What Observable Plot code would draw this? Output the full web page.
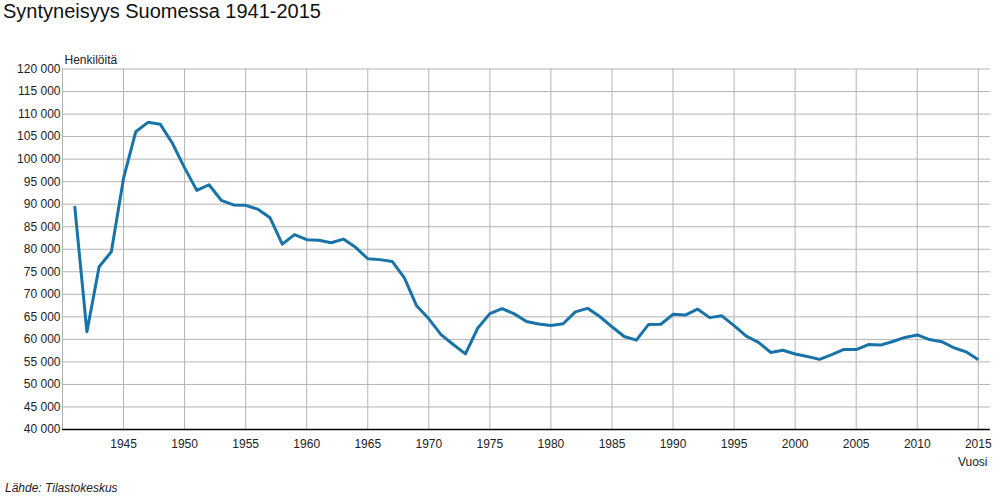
<!DOCTYPE html>
<html>
<head>
<meta charset="utf-8">
<script src="https://cdn.jsdelivr.net/npm/d3@7"></script>
<script src="https://cdn.jsdelivr.net/npm/@observablehq/plot@0.6"></script>
<style>
  html, body { margin: 0; padding: 0; background: #fff; overflow: hidden; }
  #wrap { position: relative; width: 1000px; height: 500px; font-family: "Liberation Sans", Arial, sans-serif; }
  #title { position: absolute; left: 3px; top: 0px; font-size: 20px; color: #111; white-space: nowrap; }
  #chart { position: absolute; left: 0; top: 40px; }
  #caption { position: absolute; left: 5px; top: 481px; font-size: 12px; font-style: italic; color: #222; white-space: nowrap; }
</style>
</head>
<body>
<div id="wrap">
  <div id="title">Syntyneisyys Suomessa 1941-2015</div>
  <div id="chart"></div>
  <div id="caption">Lähde: Tilastokeskus</div>
</div>
<script>
const years = [1941,1942,1943,1944,1945,1946,1947,1948,1949,1950,
  1951,1952,1953,1954,1955,1956,1957,1958,1959,1960,
  1961,1962,1963,1964,1965,1966,1967,1968,1969,1970,
  1971,1972,1973,1974,1975,1976,1977,1978,1979,1980,
  1981,1982,1983,1984,1985,1986,1987,1988,1989,1990,
  1991,1992,1993,1994,1995,1996,1997,1998,1999,2000,
  2001,2002,2003,2004,2005,2006,2007,2008,2009,2010,
  2011,2012,2013,2014,2015];
const births = [89565,61672,76112,79446,95758,106075,108168,107759,103515,98065,
  93063,94314,90866,89845,89740,88896,86985,81148,83253,82129,
  81996,81454,82251,80428,77885,77697,77289,73654,67450,64559,
  61067,58864,56787,62472,65719,66846,65659,63983,63428,63064,
  63469,66106,66892,65076,62796,60632,59827,63316,63348,65549,
  65395,66731,64826,65231,63067,60723,59329,57108,57574,56742,
  56189,55555,56630,57758,57745,58840,58729,59530,60430,60980,
  59961,59493,58134,57232,55472];
const xTicks = [1945,1950,1955,1960,1965,1970,1975,1980,1985,1990,1995,2000,2005,2010,2015];
const xGrid = [1940,1945,1950,1955,1960,1965,1970,1975,1980,1985,1990,1995,2000,2005,2010,2015];
const yTicks = [40000,45000,50000,55000,60000,65000,70000,75000,80000,85000,90000,95000,100000,105000,110000,115000,120000];
const yLabel = "Henkilöitä";
const xLabel = "Vuosi";

const data = years.map((y, i) => ({year: y, value: births[i]}));
const fmt = d => d3.format(",")(d).replace(/,/g, " ");

const chart = Plot.plot({
  width: 1000,
  height: 440,
  marginTop: 28.5,
  marginBottom: 51,
  marginLeft: 62,
  marginRight: 10,
  style: {fontFamily: "'Liberation Sans', Arial, sans-serif", fontSize: "12px", color: "#222", background: "#fff"},
  x: {domain: [1940, 2016], ticks: xTicks, tickFormat: d => String(d), tickSize: 0, tickPadding: 10, label: null},
  y: {domain: [40000, 120000], ticks: yTicks, tickFormat: fmt, tickSize: 0, tickPadding: 2, label: null},
  marks: [
    Plot.ruleY(yTicks, {stroke: "#b4b4b4", strokeWidth: 1}),
    Plot.ruleX(xGrid, {stroke: "#b4b4b4", strokeWidth: 1}),
    Plot.ruleY([40000], {stroke: "#000", strokeWidth: 1.5}),
    Plot.line(data, {x: "year", y: "value", stroke: "#1874a8", strokeWidth: 3, strokeLinejoin: "round", strokeLinecap: "butt"}),
    Plot.text([yLabel], {text: d => d, frameAnchor: "top-left", textAnchor: "start", lineAnchor: "middle", dx: 2, dy: -9, fill: "#222"}),
    Plot.text([xLabel], {text: d => d, frameAnchor: "bottom-right", textAnchor: "end", lineAnchor: "middle", dx: -3, dy: 33, fill: "#222"})
  ]
});
document.getElementById("chart").appendChild(chart);
</script>
</body>
</html>
